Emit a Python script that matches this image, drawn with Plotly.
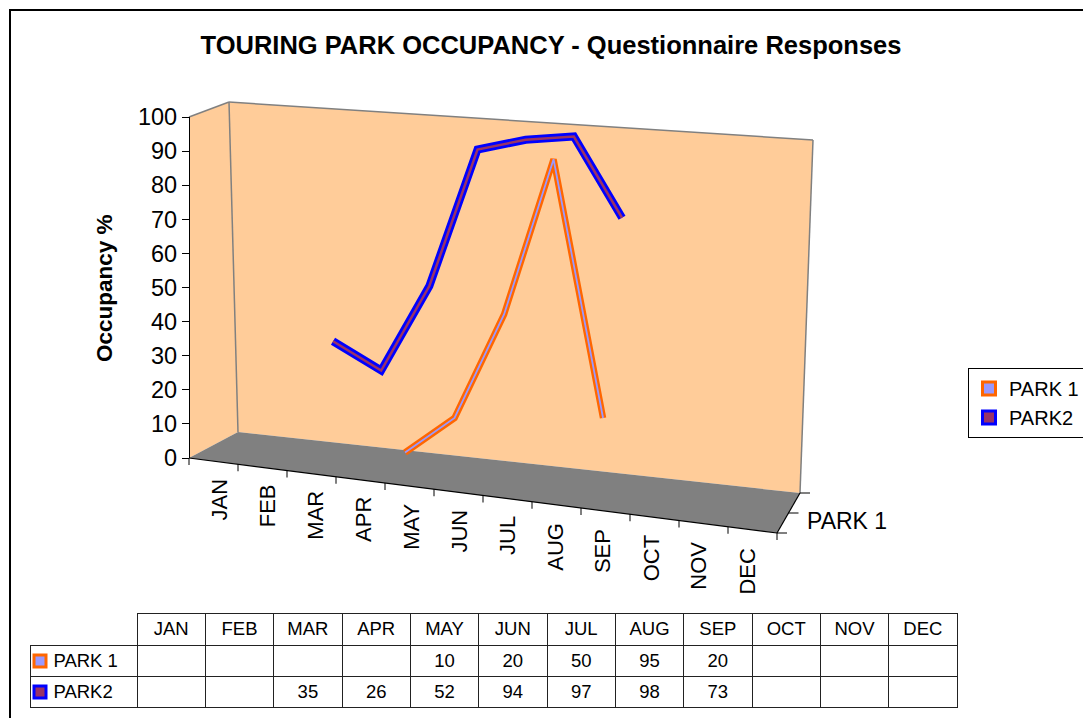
import plotly.graph_objects as go

# ---------------- data ----------------
months = ["JAN", "FEB", "MAR", "APR", "MAY", "JUN", "JUL", "AUG", "SEP", "OCT", "NOV", "DEC"]
park1 = [None, None, None, None, 10, 20, 50, 95, 20, None, None, None]
park2 = [None, None, 35, 26, 52, 94, 97, 98, 73, None, None, None]
series_names = ["PARK 1", "PARK2"]
y_ticks = list(range(0, 101, 10))

# ---------------- styling ----------------
W, H = 1083, 718
FONT = "Liberation Sans, Arial, sans-serif"
PEACH = "#FFCC99"
FLOOR = "#808080"
EDGE = "#808080"
P1_OUT, P1_IN = "#FF6600", "#9999FF"
P2_OUT, P2_IN = "#0000FF", "#993366"


def px(x):
    return x / W


def py(y):
    return 1 - y / H


def path(points):
    return "M " + " L ".join(f"{px(x)},{py(y)}" for x, y in points) + " Z"


fig = go.Figure()

# PARK2 (back series)
fig.add_trace(go.Scatter(x=months, y=park2, mode="lines", xaxis="x", yaxis="y",
                         line=dict(color=P2_OUT, width=8), showlegend=False, hoverinfo="skip"))
fig.add_trace(go.Scatter(x=months, y=park2, mode="lines", xaxis="x", yaxis="y",
                         line=dict(color=P2_IN, width=2.5), showlegend=False, name="PARK2"))
# PARK1 (front series)
fig.add_trace(go.Scatter(x=months, y=park1, mode="lines", xaxis="x2", yaxis="y2",
                         line=dict(color=P1_OUT, width=6.5), showlegend=False, hoverinfo="skip"))
fig.add_trace(go.Scatter(x=months, y=park1, mode="lines", xaxis="x2", yaxis="y2",
                         line=dict(color=P1_IN, width=1.8), showlegend=False, name="PARK 1"))

# legend entries (square keys)
fig.add_trace(go.Scatter(x=[None], y=[None], mode="markers", name=series_names[0],
                         marker=dict(symbol="square", size=13, color=P1_IN,
                                     line=dict(color=P1_OUT, width=3))))
fig.add_trace(go.Scatter(x=[None], y=[None], mode="markers", name=series_names[1],
                         marker=dict(symbol="square", size=13, color=P2_IN,
                                     line=dict(color=P2_OUT, width=3))))

# value axis carrier (no marks)
fig.add_trace(go.Scatter(x=[], y=[], xaxis="x3", yaxis="y3", showlegend=False, hoverinfo="skip"))

# ---------------- data table ----------------
col_vals = [series_names]
for a, b in zip(park1, park2):
    col_vals.append(["" if a is None else str(a), "" if b is None else str(b)])
fig.add_trace(go.Table(
    domain=dict(x=[px(30), px(957)], y=[py(712), py(613)]),
    columnwidth=[107] + [68.3] * 12,
    header=dict(values=[""] + months,
                align="center",
                height=32,
                font=dict(family=FONT, size=18.5, color="black"),
                fill=dict(color=["rgba(0,0,0,0)"] + ["white"] * 12),
                line=dict(color=["rgba(0,0,0,0)"] + ["#222222"] * 12, width=1)),
    cells=dict(values=[["\u00a0\u00a0\u00a0" + n for n in col_vals[0]]] + col_vals[1:],
               align=["left"] + ["center"] * 12,
               height=31,
               font=dict(family=FONT, size=18.5, color="black"),
               fill=dict(color="white"),
               line=dict(color="#222222", width=1)),
))

# ---------------- 3D-look frame shapes ----------------
shapes = []
# outer chart border
shapes.append(dict(type="rect", xref="paper", yref="paper", x0=px(10), y0=py(10), x1=1.02, y1=-0.02,
                   line=dict(color="black", width=2), fillcolor="rgba(0,0,0,0)", layer="below"))
# left wall
shapes.append(dict(type="path", xref="paper", yref="paper",
                   path=path([(189, 117), (229, 102), (238, 432), (189, 458)]),
                   fillcolor=PEACH, line=dict(width=0), layer="below"))
# back wall
shapes.append(dict(type="path", xref="paper", yref="paper",
                   path=path([(229, 102), (813, 140), (800, 493), (238, 432)]),
                   fillcolor=PEACH, line=dict(width=0), layer="below"))
# floor
shapes.append(dict(type="path", xref="paper", yref="paper",
                   path=path([(189, 458), (238, 432), (800, 493), (777, 533)]),
                   fillcolor=FLOOR, line=dict(width=0), layer="below"))
# wall edges
for (x0, y0), (x1, y1) in [((189, 117), (229, 102)), ((229, 102), (813, 140)),
                           ((229, 102), (238, 432)), ((813, 140), (800, 493))]:
    shapes.append(dict(type="line", xref="paper", yref="paper", x0=px(x0), y0=py(y0),
                       x1=px(x1), y1=py(y1), line=dict(color=EDGE, width=1.5), layer="below"))
# floor front & side edges
for (x0, y0), (x1, y1) in [((189, 458), (777, 533)), ((777, 533), (800, 493))]:
    shapes.append(dict(type="line", xref="paper", yref="paper", x0=px(x0), y0=py(y0),
                       x1=px(x1), y1=py(y1), line=dict(color="black", width=1.2), layer="above"))
# month tick marks along front edge
n = len(months)
for k in range(n + 1):
    t = k / n
    xb = 189 + (777 - 189) * t
    yb = 458 + (533 - 458) * t
    shapes.append(dict(type="line", xref="paper", yref="paper", x0=px(xb), y0=py(yb),
                       x1=px(xb), y1=py(yb + 7), line=dict(color="black", width=1)))
# depth axis ticks
for t in (0, 0.5, 1):
    xb = 777 + (800 - 777) * t
    yb = 533 + (493 - 533) * t
    shapes.append(dict(type="line", xref="paper", yref="paper", x0=px(xb), y0=py(yb),
                       x1=px(xb + 10), y1=py(yb), line=dict(color="black", width=1)))
# legend keys in the data table
for (cy, fc, lc) in [(661, P1_IN, P1_OUT), (692, P2_IN, P2_OUT)]:
    shapes.append(dict(type="rect", xref="paper", yref="paper", x0=px(34), y0=py(cy - 6),
                       x1=px(46), y1=py(cy + 6), fillcolor=fc, line=dict(color=lc, width=3)))

# ---------------- annotations ----------------
annotations = []
for i, m in enumerate(months):
    annotations.append(dict(x=i, y=py(476 + i * 70 / 11), xref="x3", yref="paper", text=m,
                            textangle=-90, showarrow=False, xanchor="center", yanchor="top",
                            font=dict(family=FONT, size=22, color="black")))
annotations.append(dict(x=px(805), y=py(521), xref="paper", yref="paper", text="PARK 1",
                        showarrow=False, xanchor="left", yanchor="middle",
                        font=dict(family=FONT, size=23, color="black")))
annotations.append(dict(x=px(105), y=py(288), xref="paper", yref="paper", text="<b>Occupancy %</b>",
                        textangle=-90, showarrow=False, xanchor="center", yanchor="middle",
                        font=dict(family=FONT, size=22.5, color="black")))

hidden = dict(visible=False, showgrid=False, zeroline=False)
fig.update_layout(
    width=W, height=H, autosize=False,
    margin=dict(l=0, r=0, t=0, b=0, pad=0, autoexpand=False),
    paper_bgcolor="white", plot_bgcolor="rgba(0,0,0,0)",
    font=dict(family=FONT, color="black"),
    title=dict(text="<b>TOURING PARK OCCUPANCY - Questionnaire Responses</b>",
               x=px(551), y=py(45), xanchor="center", yanchor="middle",
               font=dict(family=FONT, size=25.5, color="black")),
    xaxis=dict(domain=[px(212.6), px(790.6)], type="category", categoryorder="array",
               categoryarray=months, range=[-0.5, 11.5], anchor="y", **hidden),
    yaxis=dict(domain=[py(455), py(130)], range=[0, 100], anchor="x", **hidden),
    xaxis2=dict(domain=[px(182.3), px(776.3)], type="category", categoryorder="array",
                categoryarray=months, range=[-0.5, 11.5], anchor="y2", **hidden),
    yaxis2=dict(domain=[py(487), py(142)], range=[0, 100], anchor="x2", **hidden),
    xaxis3=dict(domain=[px(195.5), px(771)], range=[-0.5, 11.5], anchor="y3", **hidden),
    yaxis3=dict(domain=[py(458), py(117)], range=[0, 100], anchor="free", position=px(189),
                side="left", tickvals=y_ticks, ticks="outside", ticklen=7, tickcolor="black",
                showline=True, linecolor="black", linewidth=1.2, showgrid=False, zeroline=False,
                automargin=False,
                tickfont=dict(family=FONT, size=23.5, color="black")),
    legend=dict(x=px(968), y=py(368), xanchor="left", yanchor="top",
                bordercolor="black", borderwidth=1, bgcolor="white",
                font=dict(family=FONT, size=20, color="black"),
                itemwidth=30, tracegroupgap=0),
    shapes=shapes,
    annotations=annotations,
)

fig.write_html("out.html", config={"displayModeBar": False},
               post_script="document.body.style.margin='0';")
